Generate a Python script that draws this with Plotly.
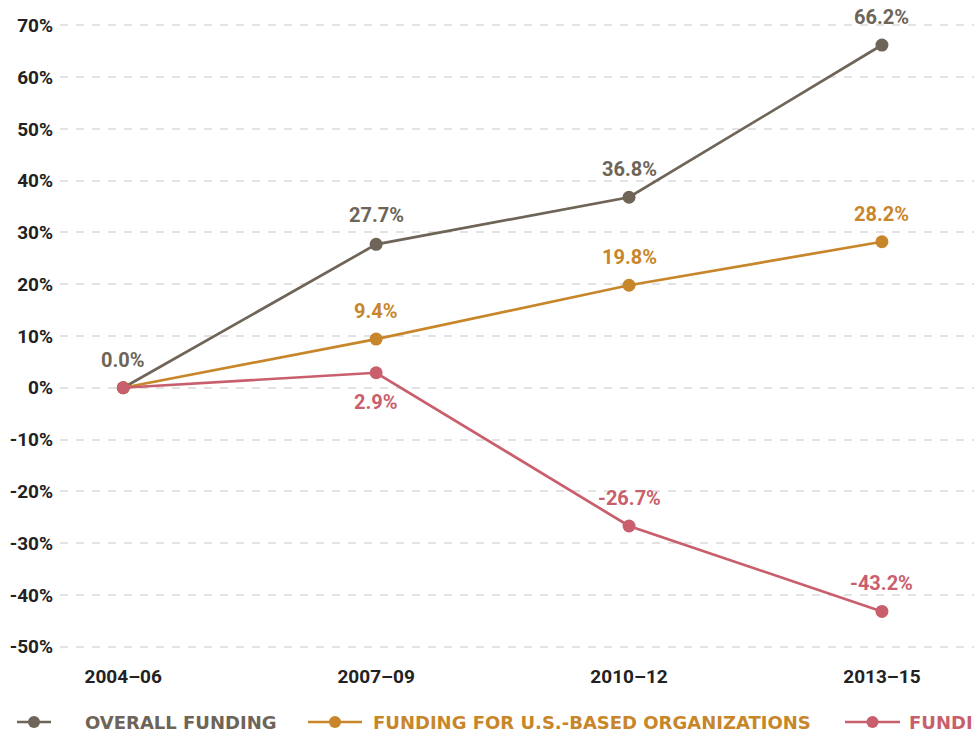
import plotly.graph_objects as go

periods = ["2004–06", "2007–09", "2010–12", "2013–15"]
overall = [0.0, 27.7, 36.8, 66.2]
us_based = [0.0, 9.4, 19.8, 28.2]
intl_based = [0.0, 2.9, -26.7, -43.2]
y_ticks = list(range(-50, 71, 10))
y_tick_text = [f"{v}%" for v in y_ticks]

names = ["OVERALL FUNDING", "FUNDING FOR U.S.-BASED ORGANIZATIONS",
         "FUNDING FOR INTERNATIONAL ORGANIZATIONS"]
colors = ["#6e6457", "#c8862b", "#c95f6c"]
# label offset (px) above (+) or below (-) each point; None hides the label
label_shift = [
    [28, 29, 28, 28],
    [None, 28, 28, 28],
    [None, -29, 28, 28],
]

FONT = "Roboto"
LEGEND_FONT = "DejaVu Sans"
W, H = 974, 734
ML, MR, MT, MB = 60, 0, 15, 77

fig = go.Figure()
series = [overall, us_based, intl_based]
for vals, color, name in zip(series, colors, names):
    fig.add_trace(go.Scatter(
        x=periods, y=vals, mode="lines+markers", name=name,
        line=dict(color=color, width=2.7),
        marker=dict(color=color, size=13),
        showlegend=False, hoverinfo="skip",
    ))

annotations = []
for vals, color, shifts in zip(series, colors, label_shift):
    for p, v, s in zip(periods, vals, shifts):
        if s is None:
            continue
        annotations.append(dict(
            x=p, y=v, xref="x", yref="y", text=f"{v:.1f}%", showarrow=False,
            yshift=s, font=dict(family=FONT, size=20, color=color, weight="bold"),
        ))

# hand-built legend row along the bottom edge
pw = W - ML - MR
ph = H - MT - MB
def px_x(p):
    return (p - ML) / pw
def px_y(p):
    return (H - MB - p) / ph

legend_y = 722
legend_items = [(17, 51, 83), (308, 362, 371), (845, 900, 907)]
shapes = []
for (x0, x1, tx), color, name in zip(legend_items, colors, names):
    shapes.append(dict(type="line", xref="paper", yref="paper",
                       x0=px_x(x0), x1=px_x(x1), y0=px_y(legend_y), y1=px_y(legend_y),
                       line=dict(color=color, width=2.7)))
    cx = (x0 + x1) / 2
    shapes.append(dict(type="circle", xref="paper", yref="paper",
                       x0=px_x(cx - 6), x1=px_x(cx + 6),
                       y0=px_y(legend_y + 6), y1=px_y(legend_y - 6),
                       fillcolor=color, line=dict(color=color, width=0)))
    annotations.append(dict(
        x=px_x(tx), y=px_y(legend_y), xref="paper", yref="paper",
        xanchor="left", yanchor="middle", text=name, showarrow=False,
        font=dict(family=LEGEND_FONT, size=18, color=color, weight="bold"),
    ))

fig.update_layout(
    width=W, height=H,
    margin=dict(l=ML, r=MR, t=MT, b=MB),
    paper_bgcolor="white", plot_bgcolor="white",
    annotations=annotations, shapes=shapes,
    xaxis=dict(
        type="category", range=[-0.25, 3.364],
        showgrid=False, showline=False, zeroline=False, ticks="",
        ticklabelstandoff=6,
        tickfont=dict(family=FONT, size=19, color="#222222", weight="bold"),
    ),
    yaxis=dict(
        range=[-52, 72], tickmode="array", tickvals=y_ticks, ticktext=y_tick_text,
        showgrid=True, gridcolor="#e2e2e2", gridwidth=2, griddash="8px,8px",
        zeroline=False, showline=False, ticks="", ticklabelstandoff=6,
        tickfont=dict(family=FONT, size=19, color="#222222", weight="bold"),
    ),
)

fig.write_html("out.html")
